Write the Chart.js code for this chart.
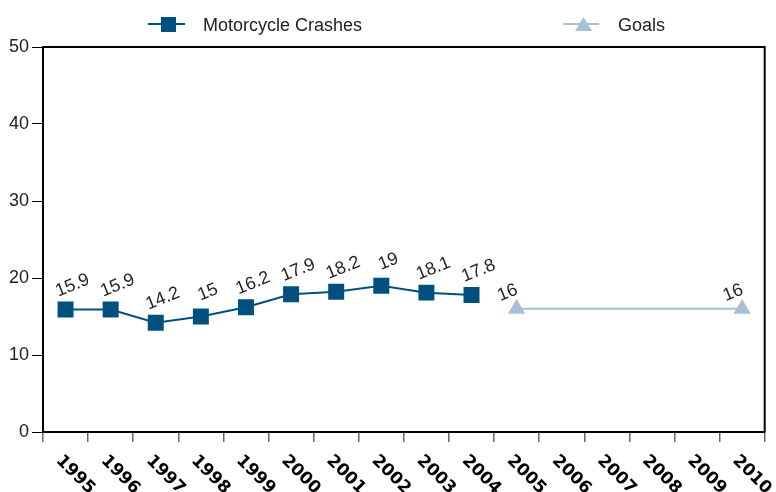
<!DOCTYPE html>
<html>
<head>
<meta charset="utf-8">
<script src="https://cdn.jsdelivr.net/npm/chart.js@4.4.1/dist/chart.umd.min.js"></script>
<style>
    body { margin: 0; background: #fff; }
    #wrap { position: relative; width: 776px; height: 492px; }
    .ley { position: absolute; font: 18px "Liberation Sans", Arial, sans-serif; color: #222; line-height: 20px; }
    .ley svg { position: absolute; }
</style>
</head>
<body>
<div id="wrap">
    <canvas id="grafica" width="776" height="492"></canvas>
    <div class="ley" style="left:148px; top:14px;">
        <svg width="38" height="20" style="left:0; top:0;">
            <line x1="0" y1="10" x2="37" y2="10" stroke="#00507f" stroke-width="2"/>
            <rect x="13" y="3" width="15" height="15" fill="#00507f"/>
        </svg>
        <span style="position:absolute; left:55px; top:1px; white-space:nowrap;">Motorcycle Crashes</span>
    </div>
    <div class="ley" style="left:563px; top:14px;">
        <svg width="38" height="20" style="left:0; top:0;">
            <line x1="0" y1="10" x2="36" y2="10" stroke="#a8c0d6" stroke-width="2"/>
            <polygon points="12,17 29,17 20.5,3" fill="#a8c0d6"/>
        </svg>
        <span style="position:absolute; left:55px; top:1px; white-space:nowrap;">Goals</span>
    </div>
</div>
<script>
/* ==================
    DATOS
================== */

const anios = ['1995', '1996', '1997', '1998', '1999', '2000', '2001', '2002',
               '2003', '2004', '2005', '2006', '2007', '2008', '2009', '2010'];
const choques = [15.9, 15.9, 14.2, 15, 16.2, 17.9, 18.2, 19, 18.1, 17.8,
                 null, null, null, null, null, null];
const metas = [null, null, null, null, null, null, null, null, null, null,
               16, null, null, null, null, 16];
const yTicks = [0, 10, 20, 30, 40, 50];

/* ==================
    PLUGINS
================== */

// marco superior y derecho del area
const marco = {
    id: 'marco',
    afterDraw(chart) {
        const { ctx, chartArea: a } = chart;
        ctx.save();
        ctx.strokeStyle = '#000';
        ctx.lineWidth = 2;
        ctx.beginPath();
        ctx.moveTo(a.left, a.top);
        ctx.lineTo(a.right, a.top);
        ctx.lineTo(a.right, a.bottom);
        ctx.stroke();
        ctx.restore();
    }
};

// etiquetas de valores
const etiquetas = {
    id: 'etiquetas',
    afterDatasetsDraw(chart) {
        const ctx = chart.ctx;
        const desp = [[7, -24], [-9, -16]];
        chart.data.datasets.forEach((ds, d) => {
            const meta = chart.getDatasetMeta(d);
            meta.data.forEach((el, i) => {
                if (ds.data[i] === null) return;
                ctx.save();
                ctx.translate(el.x + desp[d][0], el.y + desp[d][1]);
                ctx.rotate(-22 * Math.PI / 180);
                ctx.font = '18px "Liberation Sans", Arial, sans-serif';
                ctx.fillStyle = '#222';
                ctx.textAlign = 'center';
                ctx.textBaseline = 'middle';
                ctx.fillText(String(ds.data[i]), 0, 0);
                ctx.restore();
            });
        });
    }
};

// años inclinados hacia abajo
const anioLabels = {
    id: 'anioLabels',
    afterDraw(chart) {
        const ctx = chart.ctx;
        const x = chart.scales.x;
        ctx.save();
        ctx.font = 'bold 17px "DejaVu Sans", sans-serif';
        ctx.fillStyle = '#000';
        ctx.textAlign = 'left';
        ctx.textBaseline = 'middle';
        anios.forEach((a, i) => {
            ctx.save();
            ctx.translate(x.getPixelForValue(i) - 7, x.top + 26);
            ctx.rotate(Math.PI / 4);
            ctx.fillText(a, 0, 0);
            ctx.restore();
        });
        ctx.restore();
    }
};

/* ==================
    GRAFICA
================== */

const g = document.getElementById('grafica').getContext('2d');
new Chart(g, {
    type: 'line',
    data: {
        labels: anios,
        datasets: [{
            label: 'Motorcycle Crashes',
            data: choques,
            borderColor: '#00507f',
            backgroundColor: '#00507f',
            borderWidth: 2,
            pointStyle: 'rect',
            pointRadius: 11.3,
            pointBorderWidth: 0,
            tension: 0
        }, {
            label: 'Goals',
            data: metas,
            borderColor: '#a8c0d6',
            backgroundColor: '#a8c0d6',
            borderWidth: 2,
            pointStyle: 'triangle',
            pointRadius: 10,
            pointBorderWidth: 0,
            spanGaps: true,
            tension: 0
        }]
    },
    options: {
        responsive: false,
        animation: false,
        layout: { padding: { top: 47, right: 9, left: 0, bottom: 0 } },
        plugins: {
            legend: { display: false },
            tooltip: { enabled: false }
        },
        scales: {
            x: {
                offset: true,
                grid: { offset: true, drawOnChartArea: false, tickLength: 10, color: '#666', lineWidth: 1.5 },
                border: { color: '#000', width: 2 },
                ticks: { callback: () => '' },
                afterFit(s) { s.height = 60; }
            },
            y: {
                min: 0,
                max: 50,
                afterBuildTicks(s) { s.ticks = yTicks.map(v => ({ value: v })); },
                grid: { drawOnChartArea: false, tickLength: 11, color: '#000', lineWidth: 1 },
                border: { color: '#000', width: 2 },
                ticks: {
                    padding: 3,
                    color: '#222',
                    font: { family: '"Liberation Sans", Arial, sans-serif', size: 18 }
                },
                afterFit(s) { s.width = 43; }
            }
        }
    },
    plugins: [marco, etiquetas, anioLabels]
});
</script>
</body>
</html>
